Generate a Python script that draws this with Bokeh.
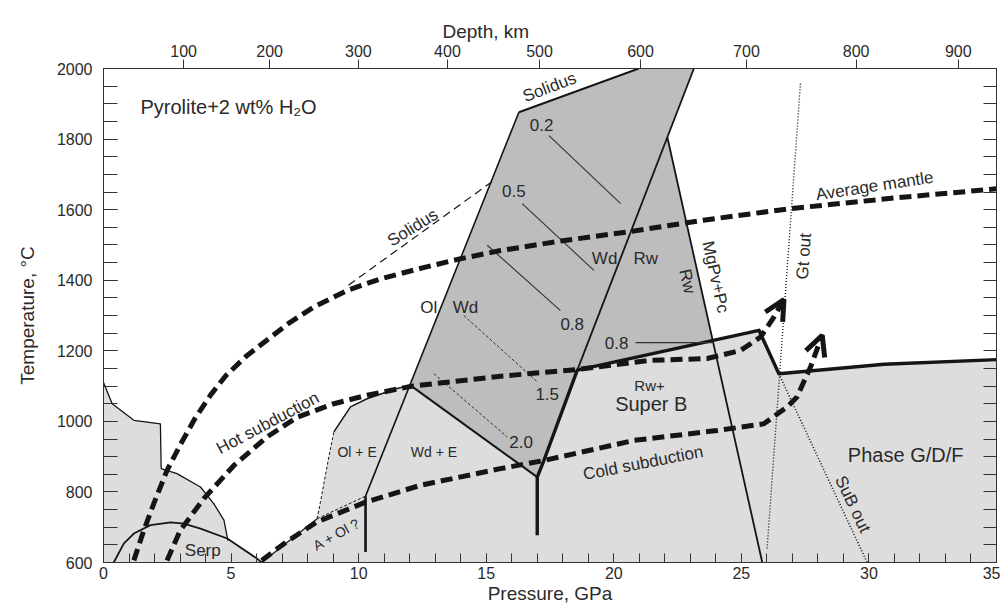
import math
from bokeh.plotting import figure
from bokeh.models import (Range1d, LinearAxis, SingleIntervalTicker, FixedTicker, Title,
                          ColumnDataSource, Arrow, OpenHead)
from bokeh.core.properties import value
from bokeh.embed import file_html
from bokeh.resources import INLINE

# ---------------- data (pressure GPa, temperature °C) ----------------
depth_km = [100, 200, 300, 400, 500, 600, 700, 800, 900]
depth_pressure = [3.14, 6.51, 9.99, 13.48, 17.09, 21.05, 25.2, 29.5, 33.5]

serp_field_p = [0, 0, 0.34, 1.19, 2.23, 2.26, 2.88, 3.80, 4.32, 4.72, 4.85, 4.88, 6.02, 6.2]
serp_field_t = [600, 1110, 1050, 1003, 993, 866, 852, 814, 767, 720, 672, 666, 611, 600]

hydrous_field_p = [6.2, 8.37, 8.5, 8.83, 9.03, 9.68, 10.33, 11.5, 12.03, 17.0, 17.26, 18.57,
                   25.69, 26.47, 30.6, 35, 35]
hydrous_field_t = [600, 724, 770, 899, 970, 1041, 1064, 1093, 1102, 842, 889, 1145,
                   1258, 1135, 1162, 1175, 600]

melt_field_p = [12.03, 16.28, 20.98, 23.14, 22.1, 23.9, 18.57, 17.26, 17.0]
melt_field_t = [1102, 1876, 2000, 2000, 1805, 1229, 1145, 889, 842]

serp_top_p = [0, 0.34, 1.19, 2.23, 2.26]
serp_top_t = [1110, 1050, 1003, 993, 866]
serp_curve_p = [2.26, 2.88, 3.80, 4.32, 4.72, 4.85, 4.88]
serp_curve_t = [866, 852, 814, 767, 720, 672, 662]
serp_arc_p = [0.40, 0.80, 1.19, 1.84, 2.63, 3.15]
serp_arc_t = [600, 654, 682, 706, 714, 710]
serp_out_p = [3.15, 3.80, 4.85, 6.02, 6.2]
serp_out_t = [710, 696, 668, 611, 600]

a_ol_low_p = [6.2, 8.37]
a_ol_low_t = [600, 724]
ol_e_left_p = [8.37, 8.5, 8.83, 9.03]
ol_e_left_t = [724, 770, 899, 970]
ol_e_top_p = [9.03, 9.68, 10.33, 11.5, 12.03]
ol_e_top_t = [970, 1041, 1064, 1093, 1102]
a_ol_top_p = [8.37, 10.27]
a_ol_top_t = [724, 788]
ol_wd_p = [10.27, 16.28]
ol_wd_t = [788, 1876]
a_e_vert_p = [10.27, 10.27]
a_e_vert_t = [630, 788]
solidus_p = [16.28, 20.98]
solidus_t = [1876, 2000]
wd_rw_p = [23.14, 18.57]
wd_rw_t = [2000, 1145]
mgpv_p = [22.1, 25.82]
mgpv_t = [1805, 600]
wd_e_top_p = [12.03, 17.0]
wd_e_top_t = [1102, 842]
superb_p = [17.0, 17.0, 17.26, 18.57, 25.69, 26.47, 30.6, 35]
superb_t = [677, 842, 889, 1145, 1258, 1135, 1162, 1175]

solidus_wet_p = [9.6, 15.3]
solidus_wet_t = [1386, 1683]

mantle_p = [1.19, 1.58, 1.97, 2.49, 3.02, 3.6, 4.2, 4.8, 5.6, 6.4, 7.3, 8.24, 9.55, 10.86,
            12.5, 14.0, 15.56, 18.0, 20.66, 23.5, 26.93, 31.0, 35.0]
mantle_t = [606, 691, 767, 861, 935, 1010, 1075, 1130, 1185, 1230, 1280, 1324, 1371, 1404,
            1435, 1461, 1484, 1512, 1538, 1570, 1603, 1633, 1659]

hot_p = [2.49, 3.0, 3.93, 5.11, 6.41, 7.6, 9.03, 10.33, 12.03, 15.56, 18.57, 21.44, 23.66,
         24.97, 25.75, 26.28, 26.67]
hot_t = [606, 690, 781, 875, 956, 1012, 1050, 1074, 1099, 1128, 1147, 1173, 1178,
         1201, 1239, 1296, 1345]

cold_p = [6.2, 7.2, 8.37, 10.27, 12.43, 15.56, 17.26, 20.79, 24.05, 25.88, 26.8, 27.18,
          27.71, 28.17]
cold_t = [606, 660, 715, 771, 819, 866, 889, 946, 974, 993, 1041, 1069, 1154, 1244]

gt_out_p = [26.01, 27.32]
gt_out_t = [640, 1961]
sub_out_p = [26.47, 29.93]
sub_out_t = [1135, 600]

c02_p = [17.46, 20.27]; c02_t = [1810, 1617]
c05_p = [16.41, 19.22]; c05_t = [1617, 1428]
c08_p = [15.04, 17.91]; c08_t = [1499, 1314]
c15_p = [14.12, 17.0]; c15_t = [1300, 1112]
c20_p = [12.95, 15.82]; c20_t = [1135, 956]
c08b_p = [20.85, 23.92]; c08b_t = [1223, 1223]

# right-hand frame ticks (every 50 °C, unlabeled)
right_ticks = list(range(600, 2001, 50))

# ---------------- annotations: text, P, T, angle (deg), font px ----------------
annotations = [
    ("Solidus", 17.48, 1947, 21, 17),
    ("Solidus", 12.12, 1549, 32, 17),
    ("0.2", 17.17, 1839, 0, 17),
    ("0.5", 16.08, 1652, 0, 17),
    ("0.8", 18.37, 1275, 0, 17),
    ("0.8", 20.11, 1222, 0, 17),
    ("1.5", 17.39, 1078, 0, 17),
    ("2.0", 16.37, 941, 0, 17),
    ("Wd", 19.64, 1461, 0, 17),
    ("Rw", 21.25, 1461, 0, 17),
    ("Ol", 12.75, 1324, 0, 17),
    ("Wd", 14.19, 1324, 0, 17),
    ("Rw", 22.88, 1397, -77.6, 17),
    ("MgPv+Pc", 23.99, 1409, -77.6, 17),
    ("Average mantle", 30.22, 1667, 8.6, 17),
    ("Gt out", 27.45, 1468, 86, 17),
    ("Rw+", 21.4, 1102, 0, 15),
    ("Super B", 21.47, 1050, 0, 20),
    ("Phase G/D/F", 31.44, 904, 0, 20),
    ("SuB out", 29.37, 765, -64.5, 17),
    ("Cold subduction", 21.15, 882, 11, 17),
    ("Hot subduction", 6.44, 995, 28, 17),
    ("Ol + E", 9.94, 913, 0, 14),
    ("Wd + E", 12.95, 913, 0, 14),
    ("A + Ol ?", 9.13, 680, 29, 14),
    ("Serp", 3.89, 635, 0, 17),
]

FONT = "Liberation Sans"
INK = "#151515"
TXT = "#2a2a2a"
LIGHT = "#dddddd"
DARK = "#bdbdbd"

p = figure(width=1000, height=606, x_range=Range1d(0, 35), y_range=Range1d(600, 2000),
           output_backend="svg", toolbar_location=None, title=None,
           min_border_left=103, min_border_right=4, min_border_top=68, min_border_bottom=44)
p.xgrid.visible = False
p.ygrid.visible = False
p.outline_line_color = "#333333"

# fields
p.patch(serp_field_p, serp_field_t, fill_color=LIGHT, line_color=None)
p.patch(hydrous_field_p, hydrous_field_t, fill_color=LIGHT, line_color=None)
p.patch(melt_field_p, melt_field_t, fill_color=DARK, line_color=None)

def ln(xs, ys, w=1.5, dash="solid", color=INK):
    p.line(xs, ys, line_width=w, line_color=color, line_dash=dash, line_join="round")

ln(serp_top_p, serp_top_t, 1.3)
ln(serp_curve_p, serp_curve_t, 1.3)
ln(serp_arc_p, serp_arc_t, 1.8)
ln(serp_out_p, serp_out_t, 1.8)
ln(a_ol_low_p, a_ol_low_t, 1.2)
ln(ol_e_left_p, ol_e_left_t, 1.0, "3 2")
ln(ol_e_top_p, ol_e_top_t, 1.5)
ln(a_ol_top_p, a_ol_top_t, 1.0, "3 2")
ln(ol_wd_p, ol_wd_t, 1.6)
ln(a_e_vert_p, a_e_vert_t, 2.6)
ln(solidus_p, solidus_t, 2.0)
ln(wd_rw_p, wd_rw_t, 1.8)
ln(mgpv_p, mgpv_t, 1.8)
ln(wd_e_top_p, wd_e_top_t, 2.0)
ln(superb_p, superb_t, 3.4)
ln(solidus_wet_p, solidus_wet_t, 1.2, "8 5")

for cp, ct in [(c02_p, c02_t), (c05_p, c05_t), (c08_p, c08_t), (c08b_p, c08b_t)]:
    ln(cp, ct, 1.1, "solid", "#333333")
for cp, ct in [(c15_p, c15_t), (c20_p, c20_t)]:
    ln(cp, ct, 1.0, "3 2", "#333333")

ln(gt_out_p, gt_out_t, 1.4, "1 2")
ln(sub_out_p, sub_out_t, 1.6, "1 2")

ln(mantle_p, mantle_t, 5, "12 6")
ln(hot_p, hot_t, 5, "12 6")
ln(cold_p, cold_t, 5, "12 6")

for xs, ys in [(hot_p, hot_t), (cold_p, cold_t)]:
    p.add_layout(Arrow(end=OpenHead(size=20, line_width=5, line_color=INK),
                       x_start=xs[-2], y_start=ys[-2], x_end=xs[-1], y_end=ys[-1],
                       line_alpha=0))

# texts, grouped by font size
for fs in sorted(set(a[4] for a in annotations)):
    rows = [a for a in annotations if a[4] == fs]
    src = ColumnDataSource(dict(
        text=[a[0] for a in rows],
        x=[a[1] for a in rows],
        y=[a[2] for a in rows],
        angle=[math.radians(a[3]) for a in rows],
    ))
    p.text(x="x", y="y", text="text", angle="angle", source=src,
           text_font_size="%dpx" % fs, text_font=value(FONT), text_color=TXT,
           text_align="center", text_baseline="middle")
p.text(x=[1.45], y=[1890], text=["Pyrolite+2 wt% H\u2082O"], text_font=value(FONT),
       text_font_size="20px", text_color=TXT, text_align="left", text_baseline="middle")

# axes
AX = "#333333"
xa = p.xaxis[0]
xa.ticker = SingleIntervalTicker(interval=5, num_minor_ticks=5)
xa.major_tick_in = 9; xa.major_tick_out = 0
xa.minor_tick_in = 9; xa.minor_tick_out = 0
xa.major_label_standoff = 4
xa.axis_label = "Pressure, GPa"
xa.axis_label_standoff = 1

ya = p.yaxis[0]
ya.ticker = SingleIntervalTicker(interval=200, num_minor_ticks=4)
ya.major_tick_in = 14; ya.major_tick_out = 0
ya.minor_tick_in = 14; ya.minor_tick_out = 0
ya.major_label_standoff = 11
ya.axis_label = "Temperature, \u00b0C"
ya.axis_label_standoff = 16

for ax in (xa, ya):
    ax.axis_line_color = AX
    ax.major_tick_line_color = AX
    ax.minor_tick_line_color = AX
    ax.major_label_text_font = FONT
    ax.major_label_text_font_size = "16px"
    ax.major_label_text_color = TXT
    ax.axis_label_text_font = FONT
    ax.axis_label_text_font_size = "19px"
    ax.axis_label_text_font_style = "normal"
    ax.axis_label_text_color = TXT

ra = LinearAxis(ticker=FixedTicker(ticks=[], minor_ticks=right_ticks),
                major_tick_in=0, major_tick_out=0,
                minor_tick_in=13, minor_tick_out=0, major_label_standoff=0,
                axis_line_color=AX, minor_tick_line_color=AX)
p.add_layout(ra, "right")

ta = LinearAxis(ticker=FixedTicker(ticks=depth_pressure),
                major_label_overrides={pv: str(d) for pv, d in zip(depth_pressure, depth_km)},
                major_tick_in=0, major_tick_out=9, minor_tick_in=0, minor_tick_out=0,
                major_label_standoff=3, axis_line_color=AX, major_tick_line_color=AX,
                major_label_text_font=FONT, major_label_text_font_size="16px",
                major_label_text_color=TXT)
p.add_layout(ta, "above")
p.add_layout(Title(text="Depth, km", align="left", offset=339, text_font=FONT,
                   text_font_size="19px", text_font_style="normal", text_color=TXT,
                   standoff=0), "above")

open("out.html", "w").write(file_html(p, INLINE))
